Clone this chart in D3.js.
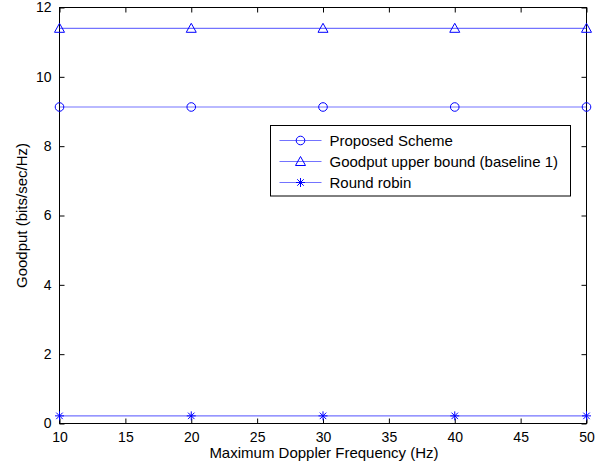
<!DOCTYPE html>
<html><head><meta charset="utf-8">
<script src="https://cdn.jsdelivr.net/npm/d3@7"></script>
<style>body{margin:0;background:#fff}svg{display:block}text{font-family:Arial,"Liberation Sans",sans-serif;}</style>
</head><body>
<svg id="c" width="602" height="466"></svg>
<script>
const freqs = [10, 20, 30, 40, 50];
const proposed = [9.13, 9.13, 9.13, 9.13, 9.13];
const upperBound = [11.40, 11.40, 11.40, 11.40, 11.40];
const roundRobin = [0.22, 0.22, 0.22, 0.22, 0.22];
const xTicks = [10, 15, 20, 25, 30, 35, 40, 45, 50];
const yTicks = [0, 2, 4, 6, 8, 10, 12];
const seriesNames = ["Proposed Scheme", "Goodput upper bound (baseline 1)", "Round robin"];
const seriesMarkers = ["circle", "triangle", "star"];

const svg = d3.select("#c");
const L = 59.5, R = 586.5, T = 7.5, B = 423.5;
const x = d3.scaleLinear().domain([10, 50]).range([L, R]);
const y = d3.scaleLinear().domain([0, 12]).range([B, T]);
const blue = "#0000ff";

// axes with inner ticks
const gx = svg.append("g").attr("transform", `translate(0,${B})`)
  .call(d3.axisBottom(x).tickValues(xTicks).tickSizeInner(-5).tickSizeOuter(0).tickPadding(9));
const gxt = svg.append("g").attr("transform", `translate(0,${T})`)
  .call(d3.axisTop(x).tickValues(xTicks).tickSizeInner(-5).tickSizeOuter(0).tickFormat(""));
const gy = svg.append("g").attr("transform", `translate(${L},0)`)
  .call(d3.axisLeft(y).tickValues(yTicks).tickSizeInner(-5).tickSizeOuter(0).tickPadding(8));
const gyr = svg.append("g").attr("transform", `translate(${R},0)`)
  .call(d3.axisRight(y).tickValues(yTicks).tickSizeInner(-5).tickSizeOuter(0).tickFormat(""));
[gx, gxt, gy, gyr].forEach(g => {
  g.select(".domain").remove();
  g.selectAll(".tick line").attr("stroke", "#000").attr("stroke-width", 1);
  g.selectAll("text").attr("font-size", 14).attr("fill", "#000").attr("font-family", "Arial, 'Liberation Sans', sans-serif");
});
gx.selectAll("text").attr("dy", "0.71em");
svg.append("rect").attr("x", L).attr("y", T).attr("width", R - L).attr("height", B - T)
  .attr("fill", "none").attr("stroke", "#000").attr("stroke-width", 1);

// axis labels
svg.append("text").attr("x", (L + R) / 2 + 1).attr("y", 458).attr("text-anchor", "middle")
  .attr("font-size", 15).text("Maximum Doppler Frequency (Hz)");
svg.append("text").attr("transform", `translate(27,${(T + B) / 2}) rotate(-90)`).attr("text-anchor", "middle")
  .attr("font-size", 15).text("Goodput (bits/sec/Hz)");

function marker(g, type, cx, cy) {
  if (type === "circle") {
    g.append("circle").attr("cx", cx).attr("cy", cy).attr("r", 4.3).attr("fill", "none").attr("stroke", blue).attr("stroke-width", 1);
  } else if (type === "triangle") {
    const s = 5;
    g.append("path").attr("d", `M${cx},${cy - s}L${cx + s},${cy + s * 0.8}L${cx - s},${cy + s * 0.8}Z`).attr("fill", "none").attr("stroke", blue).attr("stroke-width", 1);
  } else {
    const s = 4.5;
    let d = `M${cx - s},${cy}L${cx + s},${cy}M${cx},${cy - s}L${cx},${cy + s}`;
    const k = s * 0.72;
    d += `M${cx - k},${cy - k}L${cx + k},${cy + k}M${cx - k},${cy + k}L${cx + k},${cy - k}`;
    g.append("path").attr("d", d).attr("stroke", blue).attr("stroke-width", 1).attr("fill", "none");
  }
}

const allSeries = [proposed, upperBound, roundRobin];
const line = d3.line().x((d, i) => x(freqs[i])).y(d => y(d));
allSeries.forEach((vals, si) => {
  const g = svg.append("g");
  g.append("path").datum(vals).attr("d", line).attr("fill", "none").attr("stroke", blue).attr("stroke-width", 1.2).attr("stroke-opacity", 0.55);
  vals.forEach((v, i) => marker(g, seriesMarkers[si], x(freqs[i]), y(v)));
});

// legend
const lx = 270.5, ly = 125.5, lw = 300, lh = 70.5;
svg.append("rect").attr("x", lx).attr("y", ly).attr("width", lw).attr("height", lh).attr("fill", "#fff").attr("stroke", "#000").attr("stroke-width", 1);
seriesNames.forEach((name, i) => {
  const cy = ly + 15 + i * 21;
  const g = svg.append("g");
  g.append("line").attr("x1", lx + 9).attr("x2", lx + 51).attr("y1", cy).attr("y2", cy).attr("stroke", blue).attr("stroke-width", 1.2).attr("stroke-opacity", 0.55);
  marker(g, seriesMarkers[i], lx + 30, cy);
  g.append("text").attr("x", lx + 59).attr("y", cy).attr("dy", "0.35em").attr("font-size", 15).text(name);
});
</script>
</body></html>
